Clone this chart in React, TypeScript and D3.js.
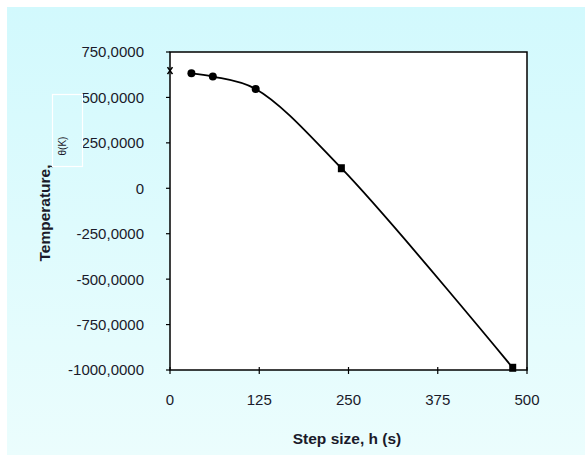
import React from "react";
import * as d3 from "d3";

const stepSizes = [30, 60, 120, 240, 480];
const temperatures = [632.77, 614.97, 546.77, 110.32, -987.81];
const exactPoint = { h: 0, t: 647.57 };
const xTicks = [0, 125, 250, 375, 500];
const yTicks = [750, 500, 250, 0, -250, -500, -750, -1000];

const W = 585;
const H = 455;
const left = 170, right = 527, top = 52, bottom = 370;

export default function App() {
  const x = d3.scaleLinear().domain([0, 500]).range([left, right]);
  const y = d3.scaleLinear().domain([-1000, 750]).range([bottom, top]);
  const pts: [number, number][] = stepSizes.map((h, i) => [x(h), y(temperatures[i])]);
  const line = d3.line().curve(d3.curveCatmullRom.alpha(0.5))(pts) || "";
  const fmt = (v: number) => (v === 0 ? "0" : v.toFixed(4).replace(".", ","));
  const font = "Arial, 'Liberation Sans', sans-serif";
  const ex = x(exactPoint.h);
  const ey = y(exactPoint.t);
  return (
    <svg width={W} height={H} style={{ position: "absolute", left: 0, top: 0 }}>
      <defs>
        <linearGradient id="bg" x1="0" y1="0" x2="0" y2="1">
          <stop offset="0" stopColor="#d2f9fd" />
          <stop offset="1" stopColor="#ebfdfd" />
        </linearGradient>
      </defs>
      <rect x={0} y={0} width={W} height={H} fill="#ffffff" />
      <rect x={7} y={7} width={W - 7} height={H - 7} fill="url(#bg)" />
      <rect x={left} y={top} width={right - left} height={bottom - top} fill="#ffffff" stroke="#000" strokeWidth={1.5} />
      {yTicks.map((t) => (
        <g key={"y" + t}>
          <line x1={left - 4} x2={left} y1={y(t)} y2={y(t)} stroke="#000" strokeWidth={1.2} />
          <text x={144} y={y(t)} dy="0.36em" textAnchor="end" fontFamily={font} fontSize={15} fill="#1a1a2a">
            {fmt(t)}
          </text>
        </g>
      ))}
      {xTicks.map((t) => (
        <g key={"x" + t}>
          <line x1={x(t)} x2={x(t)} y1={bottom - 3} y2={bottom + 4} stroke="#000" strokeWidth={1.2} />
          <text x={x(t)} y={405} textAnchor="middle" fontFamily={font} fontSize={15} fill="#1a1a2a">
            {t}
          </text>
        </g>
      ))}
      <path d={line} fill="none" stroke="#000" strokeWidth={1.8} />
      {pts.map(([px, py], i) =>
        i >= 3 ? (
          <rect key={i} x={px - 3.5} y={py - 4} width={7} height={8} fill="#000" />
        ) : (
          <circle key={i} cx={px} cy={py} r={4} fill="#000" />
        )
      )}
      <path
        d={`M${ex - 2.5},${ey - 3.5}L${ex + 2.5},${ey + 3.5}M${ex + 2.5},${ey - 3.5}L${ex - 2.5},${ey + 3.5}`}
        stroke="#000"
        strokeWidth={1.6}
      />
      <text
        transform={`translate(50,213) rotate(-90)`}
        textAnchor="middle"
        fontFamily={font}
        fontSize={15.5}
        fontWeight="bold"
        fill="#1a1a2a"
      >
        Temperature,
      </text>
      <rect x={52.5} y={94.5} width={30} height={72} fill="none" stroke="#ffffff" strokeWidth={1.2} />
      <text
        transform={`translate(66,146) rotate(-90)`}
        textAnchor="middle"
        fontFamily={font}
        fontSize={10}
        fill="#1a1a2a"
      >
        θ(K)
      </text>
      <text x={347} y={444} textAnchor="middle" fontFamily={font} fontSize={15.5} fontWeight="bold" fill="#1a1a2a">
        Step size, h (s)
      </text>
    </svg>
  );
}
